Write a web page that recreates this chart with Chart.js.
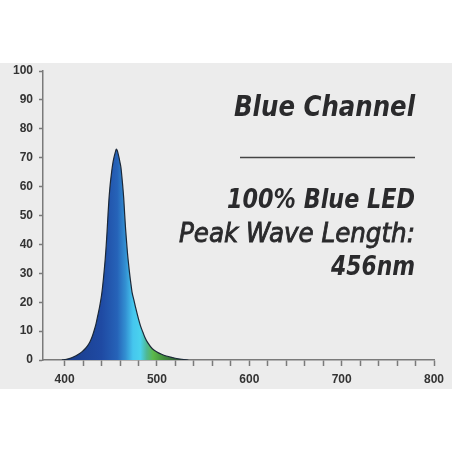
<!DOCTYPE html>
<html><head><meta charset="utf-8">
<script src="https://cdn.jsdelivr.net/npm/chart.js@4.4.1/dist/chart.umd.min.js"></script>
<style>html,body{margin:0;padding:0;background:#fff;}canvas{display:block}</style>
</head><body>
<canvas id="c" width="452" height="452" style="width:452px;height:452px"></canvas>
<script>
// ---- data ----
const wavelengths = [397,400,405,410,415,419,422,425,427.5,430,432,434,436,438,440,441,442,443,444,445,446,447,448,449,450,451,452,453,454,455,456,457,458,459,460,461,462,463,464,465,466,467,468,469,470,471,472,473,475,477,480,482,485,487,490,495,500,505,510,515,520,527,534];
const intensity   = [0,0.15,0.5,1.1,2.0,2.9,3.8,5.0,6.3,8.2,10.2,12.5,15.5,18.6,22.4,25.0,28.0,31.4,35.0,39.4,44.5,50.3,55.5,59.5,62.6,65.3,67.6,69.4,70.8,72.0,73.0,72.5,71.3,69.9,68.3,66.6,63.5,60.0,56.0,50.6,45.5,41.3,37.3,34.0,31.0,28.3,25.8,23.5,20.8,18.0,14.2,12.0,9.4,7.8,6.0,3.9,2.8,2.0,1.4,1.0,0.6,0.25,0];
const xTickValues = [400,420,440,460,480,500,520,540,560,580,600,620,640,660,680,700,720,740,760,780,800];
const xLabelValues = [400,500,600,700,800];
const yTickValues = [0,10,20,30,40,50,60,70,80,90,100];
const textLines = ["Blue Channel","100% Blue LED","Peak Wave Length:","456nm"];

// ---- style ----
const gradientStops = [[400,'#1a3b8a'],[440,'#1f4aa3'],[457,'#2663b8'],[466,'#3390d2'],[474,'#45c6ee'],[482,'#4ad2ee'],[489,'#4fb892'],[496,'#5cb84a'],[508,'#3f8a3c'],[530,'#2b3f33']];

const points = wavelengths.map((w,i)=>({x:w,y:intensity[i]}));

const bgPlugin = {
  id:'bg',
  beforeDraw(chart){
    const c = chart.ctx;
    c.save();
    c.fillStyle='#fff'; c.fillRect(0,0,chart.width,chart.height);
    c.fillStyle='#ececec'; c.fillRect(0,63,chart.width,326);
    c.restore();
  },
  afterDraw(chart){
    const c = chart.ctx;
    c.save();
    c.fillStyle='#2a2a2c'; c.strokeStyle='#2a2a2c';
    c.textAlign='right'; c.textBaseline='alphabetic';
    const fam = '"DejaVu Sans Condensed","DejaVu Sans",sans-serif';
    const specs = [
      {t:textLines[0], f:'italic bold 29px '+fam, y:116, w:181, s:0},
      {t:textLines[1], f:'italic bold 26px '+fam, y:208, w:188, s:0},
      {t:textLines[2], f:'italic 27px '+fam, y:242, w:236, s:0.8},
      {t:textLines[3], f:'italic bold 27px '+fam, y:275, w:84, s:0}
    ];
    const right = 415;
    specs.forEach(s=>{
      c.font = s.f;
      const m = c.measureText(s.t).width;
      const k = s.w/m;
      c.save();
      c.translate(right, s.y);
      c.scale(k,1);
      c.fillText(s.t,0,0);
      if(s.s){ c.lineWidth=s.s; c.strokeText(s.t,0,0); }
      c.restore();
    });
    c.strokeStyle='#444'; c.lineWidth=1.5;
    c.beginPath(); c.moveTo(240,157.5); c.lineTo(415,157.5); c.stroke();
    c.restore();
  }
};

new Chart(document.getElementById('c'), {
  type:'line',
  data:{datasets:[{
    data:points,
    borderColor:'#1b2838',
    borderWidth:1.2,
    pointRadius:0,
    fill:'origin',
    cubicInterpolationMode:'monotone',
    backgroundColor(ctx){
      const ch = ctx.chart; const sx = ch.scales.x;
      if(!ch.chartArea || !sx) return gradientStops[0][1];
      const p0 = sx.getPixelForValue(gradientStops[0][0]);
      const p1 = sx.getPixelForValue(gradientStops[gradientStops.length-1][0]);
      const g = ch.ctx.createLinearGradient(p0,0,p1,0);
      const span = gradientStops[gradientStops.length-1][0]-gradientStops[0][0];
      gradientStops.forEach(s=>g.addColorStop((s[0]-gradientStops[0][0])/span, s[1]));
      return g;
    }
  }]},
  plugins:[bgPlugin],
  options:{
    responsive:false,
    animation:false,
    devicePixelRatio:1,
    layout:{padding:{top:71,right:18,left:0,bottom:0}},
    plugins:{legend:{display:false},tooltip:{enabled:false}},
    scales:{
      x:{
        type:'linear', min:376.6, max:800,
        afterBuildTicks(s){ s.ticks = xTickValues.map(v=>({value:v})); },
        afterFit(s){ s.height = 92; },
        ticks:{autoSkip:false, maxRotation:0, padding:6, color:'#333',
          font:{family:'"Liberation Sans",Arial,sans-serif', weight:'bold', size:12},
          callback:v=> xLabelValues.includes(v) ? String(v) : ''},
        grid:{drawOnChartArea:false, drawTicks:true, tickLength:6, tickColor:'#7a7a7a', tickWidth:1.5},
        border:{color:'#7a7a7a', width:1.5}
      },
      y:{
        min:0, max:100,
        afterBuildTicks(s){ s.ticks = yTickValues.map(v=>({value:v})); },
        afterFit(s){ s.width = 43; },
        ticks:{padding:6, color:'#333',
          font:{family:'"Liberation Sans",Arial,sans-serif', weight:'bold', size:12}},
        grid:{drawOnChartArea:false, drawTicks:true, tickLength:4, tickColor:'#7a7a7a', tickWidth:1.5},
        border:{color:'#7a7a7a', width:1.5}
      }
    }
  }
});
</script>
</body></html>
